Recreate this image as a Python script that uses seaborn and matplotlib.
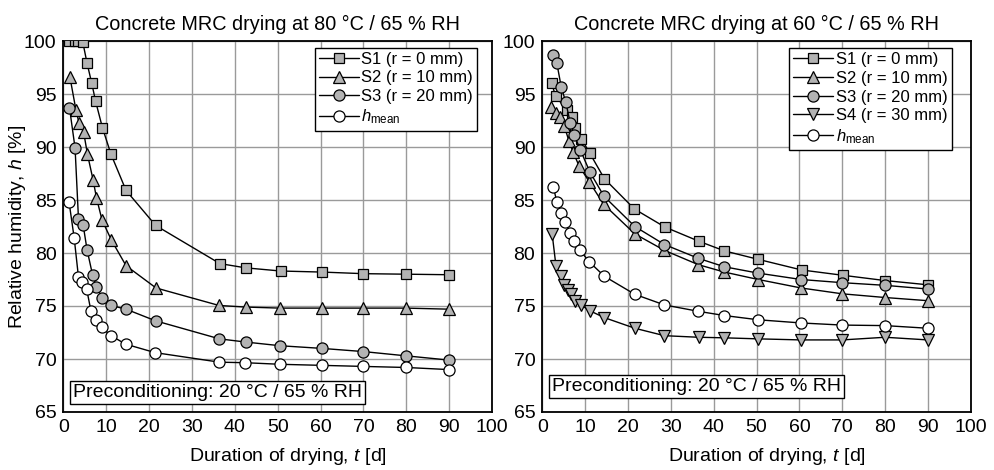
import numpy as np
import pandas as pd
import matplotlib
matplotlib.use("Agg")
import matplotlib.pyplot as plt
import seaborn as sns

sns.set_theme(style="white")
plt.rcParams['font.family'] = ['Liberation Sans', 'DejaVu Sans']
plt.rcParams['mathtext.fontset'] = 'custom'
plt.rcParams['mathtext.rm'] = 'Liberation Sans'
plt.rcParams['mathtext.it'] = 'Liberation Sans:italic'
for k in ['text.color', 'axes.labelcolor', 'xtick.color', 'ytick.color', 'axes.edgecolor']:
    plt.rcParams[k] = 'black'

# ---------------- Data: 80 °C panel ----------------
t80_s1 = [1.4, 2.7, 3.5, 4.5, 5.5, 6.6, 7.5, 9.1, 11.1, 14.6, 21.5, 36.5, 42.5, 50.7, 60.4, 70.0, 80.0, 90.0]
h80_s1 = [100.0, 100.0, 100.0, 99.9, 97.9, 96.0, 94.3, 91.8, 89.3, 85.9, 82.6, 79.0, 78.6, 78.3, 78.2, 78.05, 78.0, 77.95]
t80_s2 = [1.5, 2.9, 3.6, 4.7, 5.6, 6.9, 7.7, 9.0, 11.2, 14.6, 21.6, 36.3, 42.5, 50.6, 60.3, 70.0, 80.0, 90.0]
h80_s2 = [96.6, 93.5, 92.3, 91.4, 89.3, 86.9, 85.2, 83.1, 81.2, 78.8, 76.7, 75.05, 74.9, 74.8, 74.8, 74.8, 74.8, 74.7]
t80_s3 = [1.4, 2.7, 3.5, 4.6, 5.5, 6.8, 7.7, 9.0, 11.1, 14.6, 21.5, 36.4, 42.5, 50.6, 60.3, 70.0, 79.9, 89.9]
h80_s3 = [93.7, 89.9, 83.2, 82.6, 80.3, 77.9, 76.8, 75.8, 75.05, 74.7, 73.6, 71.9, 71.6, 71.25, 71.0, 70.7, 70.3, 69.9]
t80_hm = [1.3, 2.5, 3.5, 4.4, 5.4, 6.4, 7.5, 8.9, 11.1, 14.5, 21.4, 36.4, 42.4, 50.6, 60.3, 70.0, 80.0, 90.0]
h80_hm = [84.8, 81.4, 77.7, 77.3, 76.6, 74.55, 73.7, 73.0, 72.2, 71.4, 70.6, 69.7, 69.65, 69.5, 69.4, 69.3, 69.2, 69.0]

# ---------------- Data: 60 °C panel ----------------
t60_s1 = [2.2, 3.1, 5.7, 6.9, 7.6, 9.1, 11.1, 14.5, 21.5, 28.6, 36.6, 42.5, 50.4, 60.5, 70.1, 80.0, 90.0]
h60_s1 = [96.0, 94.8, 93.5, 92.8, 91.8, 90.8, 89.4, 87.0, 84.15, 82.45, 81.1, 80.2, 79.4, 78.4, 77.9, 77.4, 77.0]
t60_s2 = [2.1, 3.1, 4.1, 5.1, 6.2, 7.2, 8.6, 11.0, 14.3, 21.6, 28.5, 36.4, 42.5, 50.4, 60.4, 70.0, 80.0, 90.0]
h60_s2 = [93.8, 93.2, 92.8, 92.0, 90.6, 89.5, 88.2, 86.7, 84.6, 81.8, 80.25, 78.9, 78.2, 77.5, 76.7, 76.15, 75.8, 75.5]
t60_s3 = [2.4, 3.4, 4.4, 5.5, 6.5, 7.5, 8.9, 11.1, 14.4, 21.6, 28.5, 36.4, 42.5, 50.4, 60.4, 70.0, 80.0, 90.0]
h60_s3 = [98.7, 97.9, 95.7, 94.2, 92.3, 91.1, 89.7, 87.65, 85.35, 82.5, 80.8, 79.5, 78.7, 78.1, 77.5, 77.2, 76.95, 76.6]
t60_s4 = [2.3, 3.2, 4.3, 5.1, 5.9, 6.7, 7.6, 9.0, 11.1, 14.5, 21.6, 28.5, 36.5, 42.3, 50.4, 60.4, 70.0, 80.0, 90.0]
h60_s4 = [81.8, 78.75, 77.8, 77.0, 76.5, 76.1, 75.5, 75.1, 74.55, 73.9, 72.9, 72.2, 72.05, 72.0, 71.9, 71.8, 71.8, 72.05, 71.8]
t60_hm = [2.6, 3.4, 4.4, 5.3, 6.5, 7.5, 8.8, 11.0, 14.5, 21.6, 28.5, 36.4, 42.5, 50.4, 60.4, 70.0, 80.0, 90.0]
h60_hm = [86.2, 84.8, 83.8, 82.9, 81.9, 81.1, 80.25, 79.15, 77.8, 76.1, 75.1, 74.5, 74.1, 73.7, 73.4, 73.2, 73.15, 72.9]

titles = ["Concrete MRC drying at 80 °C / 65 % RH", "Concrete MRC drying at 60 °C / 65 % RH"]
precond_text = "Preconditioning: 20 °C / 65 % RH"
xlabel = "Duration of drying, $t$ [d]"
ylabel = "Relative humidity, $h$ [%]"
xticks = [0, 10, 20, 30, 40, 50, 60, 70, 80, 90, 100]
yticks = [65, 70, 75, 80, 85, 90, 95, 100]

labels = {
    "S1": "S1 (r = 0 mm)",
    "S2": "S2 (r = 10 mm)",
    "S3": "S3 (r = 20 mm)",
    "S4": "S4 (r = 30 mm)",
    "hm": r"$h_{\mathrm{mean}}$",
}

GRAY = "#b3b3b3"
styles = {
    "S1": dict(marker="s", mfc=GRAY, ms=7.3),
    "S2": dict(marker="^", mfc=GRAY, ms=9.0),
    "S3": dict(marker="o", mfc=GRAY, ms=8.0),
    "S4": dict(marker="v", mfc=GRAY, ms=9.0),
    "hm": dict(marker="o", mfc="white", ms=8.0),
}

panel80 = [("S1", t80_s1, h80_s1), ("S2", t80_s2, h80_s2), ("S3", t80_s3, h80_s3), ("hm", t80_hm, h80_hm)]
panel60 = [("S1", t60_s1, h60_s1), ("S2", t60_s2, h60_s2), ("S3", t60_s3, h60_s3),
           ("S4", t60_s4, h60_s4), ("hm", t60_hm, h60_hm)]

fig = plt.figure(figsize=(9.95, 4.70), dpi=100)
AX_W = 428.5
AX_H = 371.0
ax1 = fig.add_axes([63.5 / 995, 58 / 470, AX_W / 995, AX_H / 470])
ax2 = fig.add_axes([542.3 / 995, 58 / 470, AX_W / 995, AX_H / 470])

TICK_FS = 14
TEXT_FS = 14
TITLE_FS = 14.3
BOX_PAD = 0.15
pad_px = BOX_PAD * TEXT_FS * 100 / 72
for ax, panel, title, leg_anchor, box_px in [
    (ax1, panel80, titles[0], (1 - 14.6 / AX_W, 1 - 6.5 / AX_H), (6.2, 8.0)),
    (ax2, panel60, titles[1], (1 - 19.0 / AX_W, 1 - 7.0 / AX_H), (7.0, 14.3)),
]:
    for key, t, h in panel:
        df = pd.DataFrame({"t": t, "h": h})
        st = styles[key]
        sns.lineplot(data=df, x="t", y="h", ax=ax, sort=False, color="black", lw=1.0,
                     marker=st["marker"], markersize=st["ms"], markerfacecolor=st["mfc"],
                     markeredgecolor="black", markeredgewidth=0.9, label=labels[key],
                     zorder=3)
    ax.set_xlim(0, 100)
    ax.set_ylim(65, 100)
    ax.set_xticks(xticks)
    ax.set_yticks(yticks)
    ax.grid(True, color="#9a9a9a", lw=1.0, zorder=0)
    ax.set_axisbelow(True)
    for sp in ax.spines.values():
        sp.set_color("black")
        sp.set_linewidth(1.3)
    ax.tick_params(axis="both", direction="in", length=4, width=1.0, colors="black",
                   labelsize=TICK_FS, pad=5)
    ax.set_title(title, fontsize=TITLE_FS, pad=8)
    ax.set_xlabel(xlabel, fontsize=TEXT_FS)
    ax.xaxis.set_label_coords(0.5 + 10 / AX_W, -34 / AX_H)
    ax.set_ylabel("")
    leg = ax.legend(loc="upper right", bbox_to_anchor=leg_anchor, borderaxespad=0,
                    fontsize=12, frameon=True, fancybox=False, edgecolor="black",
                    framealpha=1, handlelength=2.4, handletextpad=0.15, borderpad=0.25,
                    labelspacing=0.22)
    leg.get_frame().set_linewidth(1.0)
    ax.text((box_px[0] + pad_px) / AX_W, (box_px[1] + pad_px) / AX_H, precond_text,
            transform=ax.transAxes, ha="left", va="bottom", fontsize=TEXT_FS, zorder=5,
            bbox=dict(boxstyle=f"square,pad={BOX_PAD}", fc="white", ec="black", lw=1.0))

ax1.set_ylabel(ylabel, fontsize=TEXT_FS)
ax1.yaxis.set_label_coords((28 - 63.5) / AX_W, 0.5)

fig.savefig("out.png", dpi=100)
